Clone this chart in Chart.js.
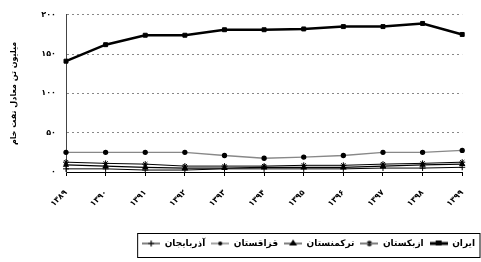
<!DOCTYPE html>
<html>
<head>
<meta charset="utf-8">
<script src="https://cdn.jsdelivr.net/npm/chart.js@4"></script>
<style>
  html, body { margin: 0; padding: 0; background: #fff; }
  #wrap { width: 481px; height: 262px; }
</style>
</head>
<body>
<div id="wrap"><canvas id="chart"></canvas></div>
<script>
// years (Persian digits)
const years = ['۱۳۸۹', '۱۳۹۰', '۱۳۹۱', '۱۳۹۲', '۱۳۹۳', '۱۳۹۴', '۱۳۹۵', '۱۳۹۶', '۱۳۹۷', '۱۳۹۸', '۱۳۹۹'];
const yTicks = [0, 50, 100, 150, 200];
const yTickLabels = ['۰', '۵۰', '۱۰۰', '۱۵۰', '۲۰۰'];

const iran = [141, 162, 174, 174, 181, 181, 182, 185, 185, 189, 175];
const uzbekistan = [12.5, 11, 10, 7.5, 7.5, 7.5, 8.5, 8.5, 10, 11, 12.5];
const turkmenistan = [9, 7.5, 6, 5, 5, 6, 6, 6, 7.5, 9, 10];
const kazakhstan = [25, 25, 25, 25, 21, 17.5, 19, 21, 25, 25, 27.5];
const azerbaijan = [4, 4, 2.5, 2.5, 4, 4, 4, 4, 5, 5, 6];

const seriesNames = ['ایران', 'ازبکستان', 'ترکمنستان', 'قزاقستان', 'آذربایجان'];
const yTitle = 'میلیون تن معادل نفت خام';

const FONT = 'DejaVu Sans';

// small line+marker images for the legend keys
function legendKey(lineColor, lineWidth, marker) {
  const c = document.createElement('canvas');
  c.width = 18; c.height = 10;
  const g = c.getContext('2d');
  g.strokeStyle = lineColor;
  g.lineWidth = lineWidth;
  g.beginPath(); g.moveTo(0, 5); g.lineTo(18, 5); g.stroke();
  g.fillStyle = '#000'; g.strokeStyle = '#000'; g.lineWidth = 1.2;
  if (marker === 'square') g.fillRect(6, 2, 6, 5);
  if (marker === 'triangle') { g.beginPath(); g.moveTo(9, 1); g.lineTo(13, 7); g.lineTo(5, 7); g.closePath(); g.fill(); }
  if (marker === 'star') { g.beginPath(); g.moveTo(7, 3); g.lineTo(11, 7); g.moveTo(11, 3); g.lineTo(7, 7); g.moveTo(9, 2); g.lineTo(9, 8); g.stroke(); }
  if (marker === 'circle') { g.beginPath(); g.arc(9, 5, 2, 0, Math.PI * 2); g.fill(); }
  if (marker === 'cross') { g.beginPath(); g.moveTo(9, 2); g.lineTo(9, 8); g.moveTo(6, 5); g.lineTo(12, 5); g.stroke(); }
  return c;
}

const keys = [
  legendKey('#000', 3, 'square'),
  legendKey('#000', 1, 'star'),
  legendKey('#000', 1, 'triangle'),
  legendKey('#888', 1.5, 'circle'),
  legendKey('#000', 1, 'cross')
];

const legendBorder = {
  id: 'legendBorder',
  afterDraw(chart) {
    const lg = chart.legend;
    if (!lg || !lg.legendHitBoxes.length) return;
    const boxes = lg.legendHitBoxes;
    const left = Math.min(...boxes.map(b => b.left)) - 5;
    const ctx = chart.ctx;
    ctx.save();
    ctx.strokeStyle = '#000';
    ctx.lineWidth = 1;
    ctx.strokeRect(left + 0.5, lg.top + 0.5, chart.width - left - 1.5, lg.height - 1);
    ctx.restore();
  }
};

new Chart(document.getElementById('chart'), {
  type: 'line',
  data: {
    labels: years,
    datasets: [
      { label: seriesNames[0], data: iran, borderColor: '#000', borderWidth: 2.5, pointStyle: 'rect', pointRadius: 2.8, backgroundColor: '#000', pointBorderWidth: 1 },
      { label: seriesNames[1], data: uzbekistan, borderColor: '#000', borderWidth: 1, pointStyle: 'star', pointRadius: 3, backgroundColor: '#000' },
      { label: seriesNames[2], data: turkmenistan, borderColor: '#000', borderWidth: 1.2, pointStyle: 'triangle', pointRadius: 2.5, backgroundColor: '#000' },
      { label: seriesNames[3], data: kazakhstan, borderColor: '#888', borderWidth: 1.3, pointStyle: 'circle', pointRadius: 2, backgroundColor: '#000', pointBorderColor: '#000' },
      { label: seriesNames[4], data: azerbaijan, borderColor: '#000', borderWidth: 1, pointStyle: 'cross', pointRadius: 3, backgroundColor: '#000' }
    ]
  },
  options: {
    responsive: true,
    maintainAspectRatio: false,
    animation: false,
    layout: { padding: { left: 9, right: 0, top: 8, bottom: 4 } },
    plugins: {
      tooltip: { enabled: false },
      legend: {
        position: 'bottom',
        align: 'end',
        reverse: true,
        labels: {
          color: '#000',
          font: { family: FONT, size: 9, weight: 'bold' },
          usePointStyle: true,
          pointStyleWidth: 18,
          padding: 6,
          generateLabels(chart) {
            return chart.data.datasets.map((ds, i) => ({
              text: ds.label,
              pointStyle: keys[i],
              datasetIndex: i,
              fontColor: '#000',
              lineWidth: 0,
              hidden: false
            }));
          }
        }
      }
    },
    scales: {
      x: {
        offset: false,
        grid: { drawOnChartArea: false, drawTicks: true, tickLength: 4, color: '#000' },
        border: { color: '#000', width: 1 },
        ticks: {
          color: '#000',
          font: { family: FONT, size: 8, weight: 'bold' },
          minRotation: 45, maxRotation: 45, padding: 12
        },
        afterFit(scale) { scale.height = 61; }
      },
      y: {
        min: 0, max: 200,
        afterBuildTicks(scale) { scale.ticks = yTicks.map(v => ({ value: v })); },
        grid: { color: '#888', lineWidth: 1, drawTicks: false },
        border: { color: '#444', dash: [2, 3] },
        ticks: {
          color: '#000',
          font: { family: FONT, size: 8, weight: 'bold' },
          padding: 10,
          callback(v) { return yTickLabels[yTicks.indexOf(v)]; }
        },
        title: {
          display: true,
          text: yTitle,
          color: '#000',
          font: { family: FONT, size: 8, weight: 'bold' },
          padding: 0
        },
        afterFit(scale) { scale.width = 57; }
      }
    }
  },
  plugins: [legendBorder]
});
</script>
</body>
</html>
